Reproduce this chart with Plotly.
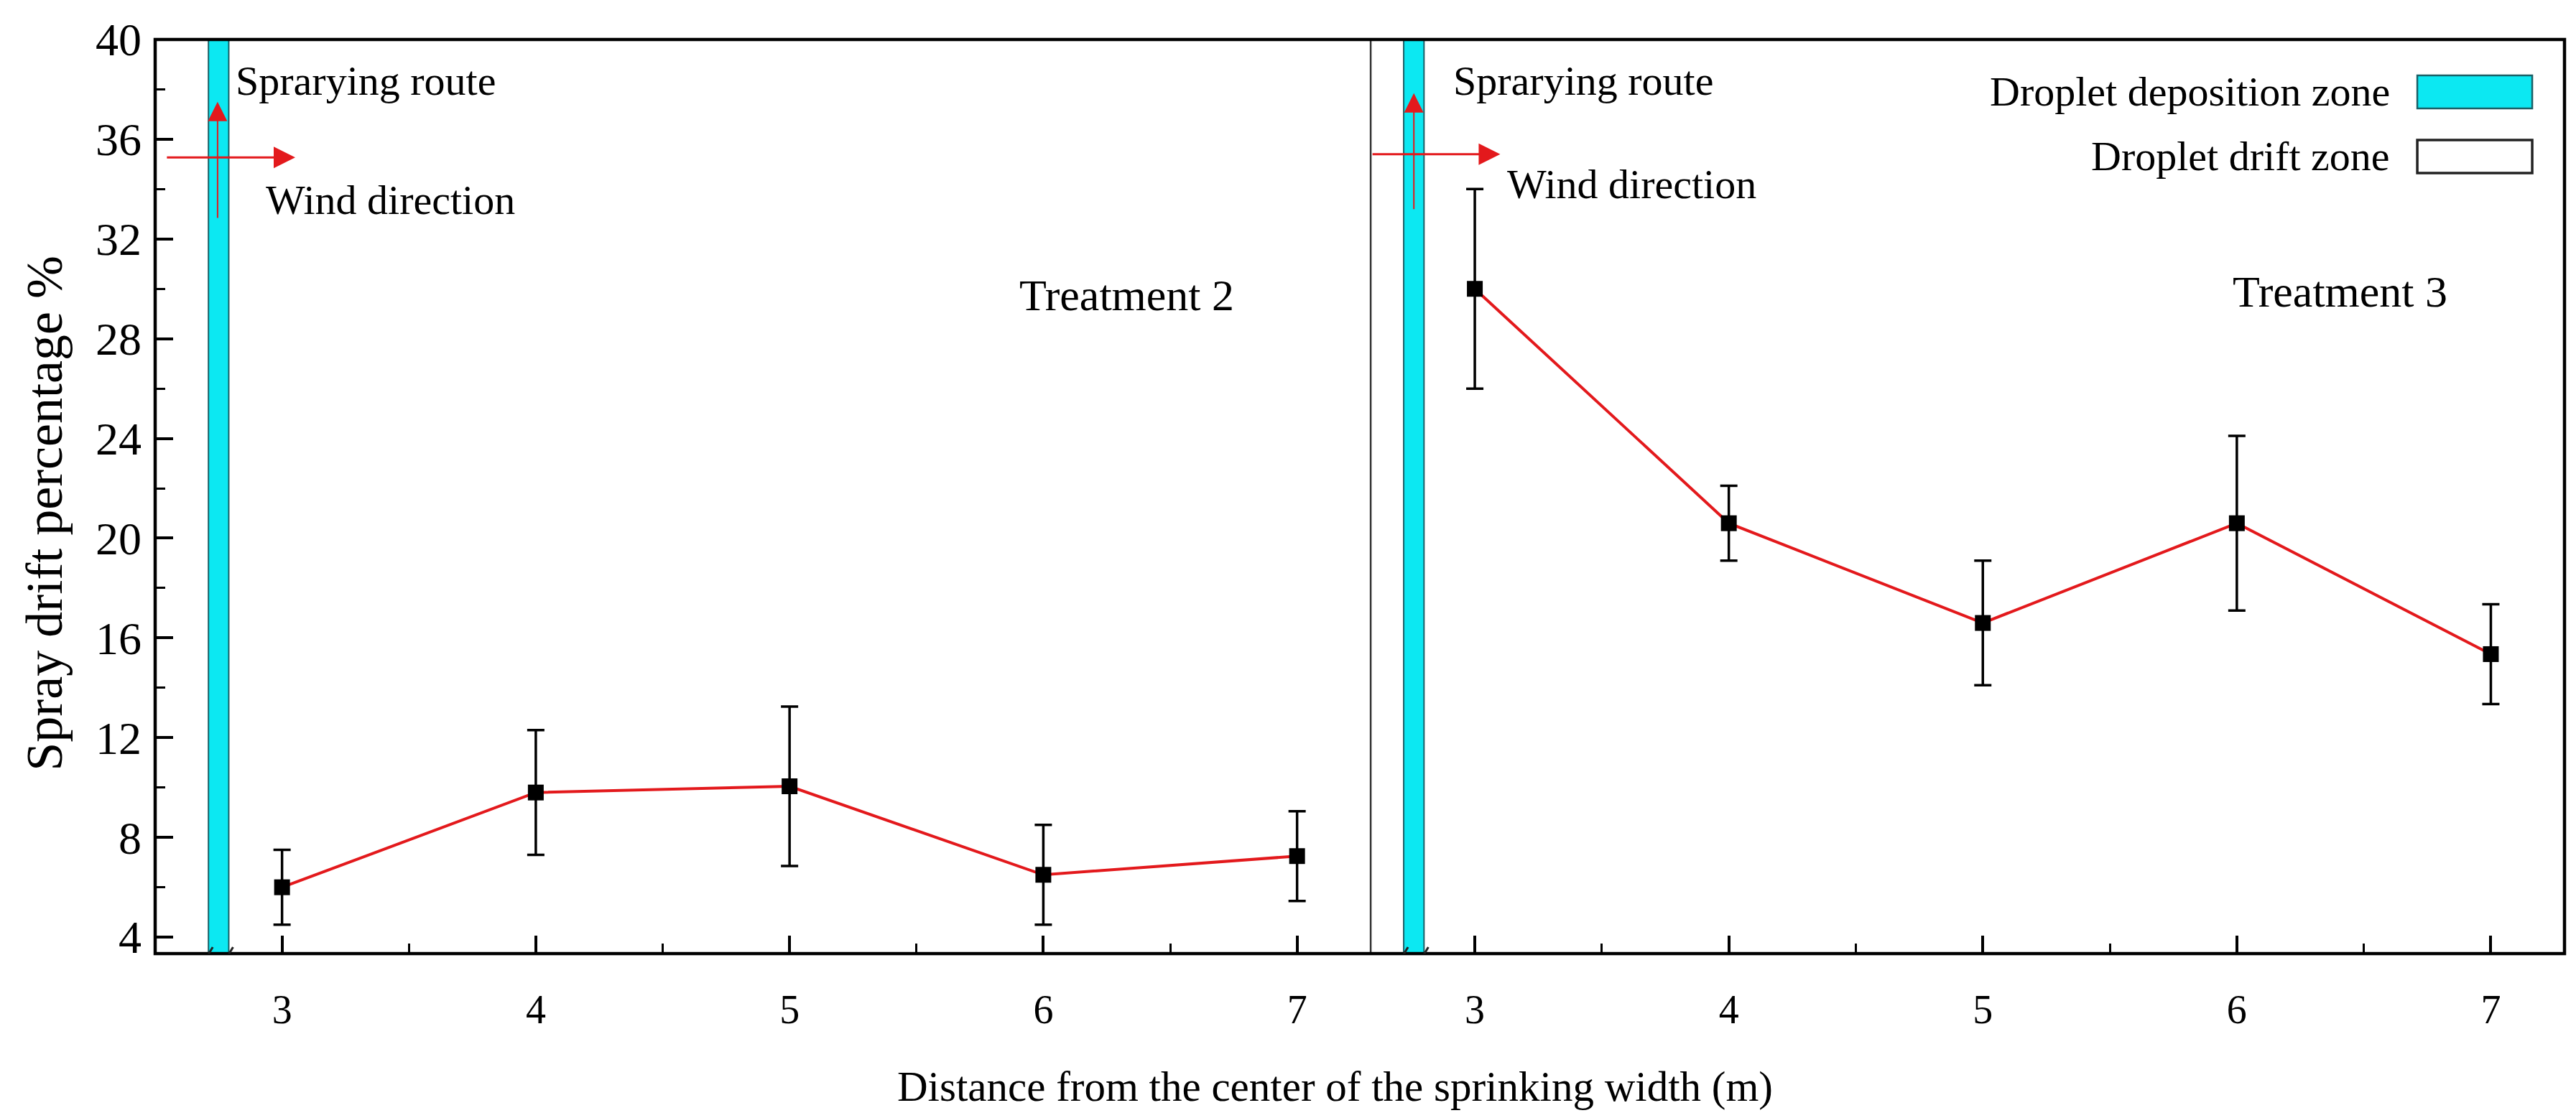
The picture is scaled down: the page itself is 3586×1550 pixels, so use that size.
import plotly.graph_objects as go

# ---------------- data ----------------
distance = [3, 4, 5, 6, 7]
t2_mean = [6.0, 9.8, 10.05, 6.5, 7.25]
t2_err = [1.5, 2.5, 3.2, 2.0, 1.8]
t3_mean = [30.0, 20.6, 16.6, 20.6, 15.35]
t3_err = [4.0, 1.5, 2.5, 3.5, 2.0]

panel_labels = ["Treatment 2", "Treatment 3"]
zone_left = [2.71, 2.79]     # droplet deposition zone (left panel)
zone_right = [2.72, 2.80]    # droplet deposition zone (right panel)
x_range_left = [2.5, 7.29]
x_range_right = [2.59, 7.29]
y_range = [3.34, 40]
x_title = "Distance from the center of the sprinking width (m)"
y_title = "Spray drift percentage %"
legend_labels = ["Droplet deposition zone", "Droplet drift zone"]

FONT = "Liberation Serif"
RED = "#E3191C"
CYAN = "#0CE8F2"
SPLIT = 0.5045

fig = go.Figure()
for xa, mean, err in [("x", t2_mean, t2_err), ("x2", t3_mean, t3_err)]:
    fig.add_trace(go.Scatter(
        x=distance, y=mean, xaxis=xa, yaxis="y",
        mode="lines+markers",
        line=dict(color=RED, width=4),
        marker=dict(symbol="square", size=22, color="black"),
        error_y=dict(type="data", array=err, visible=True,
                     color="black", thickness=3.5, width=12),
        showlegend=False,
    ))

axis_common = dict(
    showgrid=False, zeroline=False, showline=False,
    ticks="inside", ticklen=25, tickwidth=4, tickcolor="black",
    tickfont=dict(family=FONT, size=56, color="black"),
    ticklabelstandoff=40,
    minor=dict(ticks="inside", ticklen=14, tickwidth=3, tickcolor="black",
               dtick=0.5, tick0=3),
    tickmode="linear", tick0=3, dtick=1,
)
fig.update_layout(
    width=3586, height=1550,
    margin=dict(l=208, r=24, t=47, b=230),
    paper_bgcolor="white", plot_bgcolor="white",
    xaxis=dict(domain=[0, SPLIT], range=x_range_left, anchor="y", **axis_common),
    xaxis2=dict(domain=[SPLIT, 1], range=x_range_right, anchor="y", **axis_common),
    yaxis=dict(
        range=y_range, anchor="x", showgrid=False, zeroline=False, showline=False,
        tickmode="linear", tick0=0, dtick=4,
        ticks="inside", ticklen=25, tickwidth=4, tickcolor="black",
        tickfont=dict(family=FONT, size=64, color="black"),
        ticklabelstandoff=18,
        minor=dict(ticks="inside", ticklen=14, tickwidth=3, tickcolor="black",
                   dtick=2, tick0=0),
    ),
    showlegend=False,
)

shapes = []
# deposition zones
for xr, zone in [("x", zone_left), ("x2", zone_right)]:
    shapes.append(dict(type="rect", xref=xr, yref="paper", x0=zone[0], x1=zone[1],
                       y0=0, y1=1, fillcolor=CYAN, line=dict(color="#1B5F66", width=2),
                       layer="below"))
# divider between panels
shapes.append(dict(type="line", xref="paper", yref="paper", x0=SPLIT, x1=SPLIT,
                   y0=0, y1=1, line=dict(color="#333333", width=2.5)))
# frame
shapes.append(dict(type="rect", xref="paper", yref="paper", x0=0, x1=1, y0=0, y1=1,
                   line=dict(color="black", width=4.5), fillcolor="rgba(0,0,0,0)"))
# axis break marks
for xr, zone in [("x", zone_left), ("x2", zone_right)]:
    for edge in zone:
        shapes.append(dict(type="line", xref=xr, yref="y",
                           xsizemode="pixel", xanchor=edge, x0=-6, x1=6,
                           ysizemode="pixel", yanchor=y_range[0], y0=-11, y1=9,
                           line=dict(color="#222222", width=3)))
# legend swatches
shapes.append(dict(type="rect", xref="paper", yref="paper", x0=0.9389, x1=0.9866,
                   y0=0.9246, y1=0.9607, fillcolor=CYAN, line=dict(color="#1B5F66", width=2.5)))
shapes.append(dict(type="rect", xref="paper", yref="paper", x0=0.9389, x1=0.9866,
                   y0=0.8539, y1=0.8900, fillcolor="white", line=dict(color="#222222", width=3.5)))
fig.update_layout(shapes=shapes)

tf = dict(family=FONT, size=58, color="black")
ann = []
# spraying route / wind direction text
ann.append(dict(xref="x", yref="y", x=2.811, y=38.35, text="Sprarying route",
                showarrow=False, xanchor="left", yanchor="middle", font=tf))
ann.append(dict(xref="x2", yref="y", x=2.91, y=38.35, text="Sprarying route",
                showarrow=False, xanchor="left", yanchor="middle", font=tf))
ann.append(dict(xref="x", yref="y", x=2.93, y=33.55, text="Wind direction",
                showarrow=False, xanchor="left", yanchor="middle", font=tf))
ann.append(dict(xref="x2", yref="y", x=3.12, y=34.2, text="Wind direction",
                showarrow=False, xanchor="left", yanchor="middle", font=tf))
# arrows
ann.append(dict(xref="x", yref="y", axref="x", ayref="y", x=2.746, y=37.5, ax=2.746, ay=32.8,
                text="", showarrow=True, arrowhead=2, arrowsize=2.7, arrowwidth=2,
                arrowcolor=RED, standoff=0))
ann.append(dict(xref="x", yref="y", axref="x", ayref="y", x=3.052, y=35.27, ax=2.542, ay=35.27,
                text="", showarrow=True, arrowhead=2, arrowsize=2, arrowwidth=3,
                arrowcolor=RED, standoff=0))
ann.append(dict(xref="x2", yref="y", axref="x2", ayref="y", x=2.76, y=37.85, ax=2.76, ay=33.15,
                text="", showarrow=True, arrowhead=2, arrowsize=2.7, arrowwidth=2,
                arrowcolor=RED, standoff=0))
ann.append(dict(xref="x2", yref="y", axref="x2", ayref="y", x=3.10, y=35.4, ax=2.593, ay=35.4,
                text="", showarrow=True, arrowhead=2, arrowsize=2, arrowwidth=3,
                arrowcolor=RED, standoff=0))
# treatment labels
ann.append(dict(xref="x", yref="y", x=6.33, y=29.75, text=panel_labels[0], showarrow=False,
                xanchor="center", yanchor="middle", font=dict(family=FONT, size=62, color="black")))
ann.append(dict(xref="x2", yref="y", x=6.405, y=29.9, text=panel_labels[1], showarrow=False,
                xanchor="center", yanchor="middle", font=dict(family=FONT, size=62, color="black")))
# legend text
ann.append(dict(xref="paper", yref="paper", x=0.9282, y=0.9427, text=legend_labels[0],
                showarrow=False, xanchor="right", yanchor="middle", font=tf))
ann.append(dict(xref="paper", yref="paper", x=0.9282, y=0.8720, text=legend_labels[1],
                showarrow=False, xanchor="right", yanchor="middle", font=tf))
# axis titles
ann.append(dict(xref="paper", yref="paper", x=0.4896, y=-0.145, text=x_title,
                showarrow=False, xanchor="center", yanchor="middle",
                font=dict(family=FONT, size=59, color="black")))
ann.append(dict(xref="paper", yref="paper", x=-0.046, y=0.4815, text=y_title,
                showarrow=False, xanchor="center", yanchor="middle", textangle=-90,
                font=dict(family=FONT, size=72, color="black")))
fig.update_layout(annotations=ann)

fig.write_html("out.html")
